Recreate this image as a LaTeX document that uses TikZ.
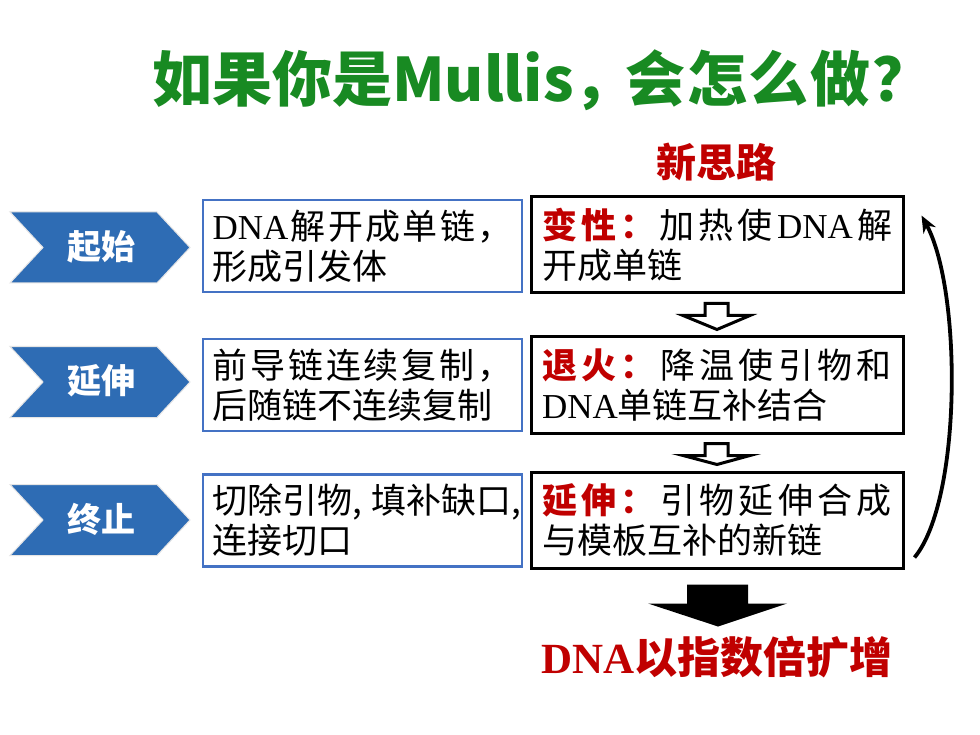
\documentclass[tikz,border=0pt]{standalone}
\usepackage{fontspec}
\setmainfont{Liberation Serif}
\newfontfamily\cjk{Noto Sans CJK SC}
\usetikzlibrary{arrows.meta,calc}
\definecolor{chev}{RGB}{46,108,180}
\definecolor{boxblue}{RGB}{68,114,196}
\definecolor{darkred}{RGB}{192,0,0}
\definecolor{titlegreen}{RGB}{24,138,34}
\newcommand\dnatxt{{\rmfamily DNA}}
\newcommand\hdr[1]{{\color{darkred}\bfseries #1}}
\begin{document}
\begin{tikzpicture}[x=1pt,y=-1pt,
  bluebox/.style={draw=boxblue, line width=2.2pt, fill=white, minimum width=319pt, minimum height=92pt, inner sep=0pt, align=left, font=\cjk\fontsize{35}{40}\selectfont},
  blackbox/.style={draw=black, line width=3pt, fill=white, minimum width=372pt, minimum height=96pt, inner sep=0pt, align=left, font=\cjk\fontsize{35}{40}\selectfont},
  chevshape/.style={fill=chev, draw=white!80!gray, line width=1pt},
  chevtext/.style={text=white, font=\cjk\bfseries\fontsize{34}{34}\selectfont},
  hollow/.style={draw=black, line width=3pt, fill=white, line join=miter},
  solidarrow/.style={fill=black},
  loop/.style={line width=3.8pt, -{Stealth[length=17pt,width=14pt]}}
]
\useasboundingbox[fill=white] (0,0) rectangle (980,735);

% title
\node[text=titlegreen, font=\cjk\bfseries\fontsize{60}{60}\selectfont, anchor=west, inner sep=0pt] (title) at (152,80)
  {\hbox to 780pt{如果你是Mullis，\hskip -8pt 会\hfil 怎\hfil 么\hfil 做\hfil ？}};

% heading
\node[text=darkred, font=\cjk\bfseries\fontsize{40}{40}\selectfont] (head) at (716,162) {新思路};

% chevrons
\foreach \yc/\nm/\txt in {247.5/c1/起始, 382/c2/延伸, 520/c3/终止}{
  \path[chevshape] (10,\yc-35.5) -- (157,\yc-35.5) -- (190,\yc) -- (157,\yc+35.5) -- (10,\yc+35.5) -- (43,\yc) -- cycle;
  \node[chevtext] (\nm) at (101,\yc-1) {\txt};
}

% blue boxes
\node[bluebox] (a1) at (362.5,246)
  {\hbox to 300pt{\dnatxt\hfil 解\hfil 开\hfil 成\hfil 单\hfil 链\hfil ，}\\形成引发体};
\node[bluebox] (a2) at (362.5,385)
  {\hbox to 300pt{前\hfil 导\hfil 链\hfil 连\hfil 续\hfil 复\hfil 制\hfil ，}\\\hbox to 300pt{后随链不连续复制\hfil}};
\node[bluebox] (a3) at (362.5,520.5)
  {\hbox to 300pt{切除引物,\hskip 9pt 填补缺口,\hfil}\\连接切口};

% black boxes
\node[blackbox] (b1) at (717,245)
  {\hbox to 350pt{\hdr{变\hfil 性\hfil ：}\hfil 加\hfil 热\hfil 使\hfil \dnatxt\hfil 解}\\开成单链};
\node[blackbox] (b2) at (717,385)
  {\hbox to 350pt{\hdr{退\hfil 火\hfil ：}\hfil 降\hfil 温\hfil 使\hfil 引\hfil 物\hfil 和}\\\hbox to 350pt{\dnatxt 单链互补结合\hfil}};
\node[blackbox] (b3) at (717,520)
  {\hbox to 350pt{\hdr{延\hfil 伸\hfil ：}\hfil 引\hfil 物\hfil 延\hfil 伸\hfil 合\hfil 成}\\与模板互补的新链};

% hollow arrows between black boxes
\foreach \up/\dn in {b1/b2, b2/b3}{
  \draw[hollow] ($(\up.south)+(-12,9)$) -- ($(\up.south)+(11,9)$) -- ($(\up.south)+(11,21)$)
     -- ($(\up.south)+(33,21)$) -- ($(\dn.north)+(0,-6)$) -- ($(\up.south)+(-34,21)$)
     -- ($(\up.south)+(-12,21)$) -- cycle;
}

% solid arrow down to result
\fill[solidarrow] ($(b3.south)+(-30,15)$) -- ($(b3.south)+(31,15)$) -- ($(b3.south)+(31,34)$)
   -- ($(b3.south)+(70,34)$) -- ($(b3.south)+(1,57)$) -- ($(b3.south)+(-69,34)$)
   -- ($(b3.south)+(-30,34)$) -- cycle;

% result
\node[text=darkred, font=\cjk\bfseries\fontsize{43}{43}\selectfont] (res) at (717,657)
  {{\rmfamily\bfseries DNA}以指数倍扩增};

% loop back arrow
\coordinate (ls) at ($(b3.south east)+(10,-12)$);
\coordinate (le) at ($(b1.north east)+(17,20)$);
\draw[loop] (ls) .. controls (962,500) and (962,290) .. (le);
\end{tikzpicture}
\end{document}
